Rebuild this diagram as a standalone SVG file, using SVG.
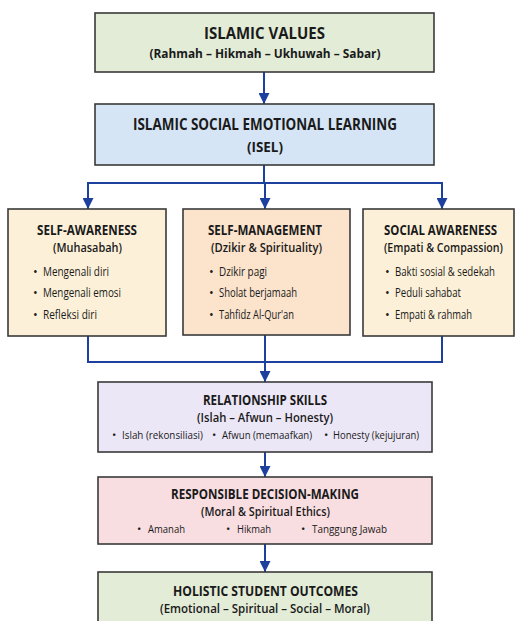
<svg xmlns="http://www.w3.org/2000/svg" width="515" height="621" viewBox="0 0 515 621">
<defs>
<marker id="ah" viewBox="0 0 10 10" refX="10" refY="5" markerWidth="11" markerHeight="11" markerUnits="userSpaceOnUse" orient="auto">
<path d="M0,0 L10,5 L0,10 Z" fill="#1d3f9e"/>
</marker>
<style>
.box{stroke:#3a3a3a;stroke-width:1.6}
text{font-family:"Open Sans","Liberation Sans",sans-serif;fill:#1a1a1a}
.t1{font-size:16.5px;font-weight:700;text-anchor:middle}
.t2{font-size:14.5px;font-weight:700}
.s1{font-size:13px;font-weight:700;text-anchor:middle}
.s2{font-size:13px;font-weight:600}
.b{font-size:12.5px;font-weight:500}
.bs{font-size:11.5px;font-weight:500}
.c{text-anchor:middle}
.ln{fill:none;stroke:#1d3f9e;stroke-width:2}
</style>
</defs>
<rect width="515" height="621" fill="#ffffff"/>
<g id="connectors">
<path class="ln" d="M264,72 V104" marker-end="url(#ah)"/>
<path class="ln" d="M264,165 V183 M88,183 H442"/>
<path class="ln" d="M88,182 V209" marker-end="url(#ah)"/>
<path class="ln" d="M265,183 V209" marker-end="url(#ah)"/>
<path class="ln" d="M442,182 V209" marker-end="url(#ah)"/>
<path class="ln" d="M88,336 V362 H442 V336"/>
<path class="ln" d="M265,335 V382" marker-end="url(#ah)"/>
<path class="ln" d="M265,452 V477" marker-end="url(#ah)"/>
<path class="ln" d="M265,544 V572" marker-end="url(#ah)"/>
</g>
<g id="islamic-values">
<rect class="box" x="95" y="13" width="339" height="59" fill="#e3ecd7"/>
<text class="t1" x="264.5" y="39" textLength="121" lengthAdjust="spacingAndGlyphs">ISLAMIC VALUES</text>
<text class="s1" x="265" y="58" textLength="231" lengthAdjust="spacingAndGlyphs">(Rahmah – Hikmah – Ukhuwah – Sabar)</text>
</g>
<g id="isel">
<rect class="box" x="95" y="104" width="339" height="61" fill="#d6e5f5"/>
<text class="t1" x="265" y="130" textLength="264" lengthAdjust="spacingAndGlyphs">ISLAMIC SOCIAL EMOTIONAL LEARNING</text>
<text class="t1" x="265" y="152" textLength="36" lengthAdjust="spacingAndGlyphs" style="font-size:15px">(ISEL)</text>
</g>
<g id="self-awareness">
<rect class="box" x="8" y="209" width="158" height="127" fill="#fcf1d8"/>
<text class="t2 c" x="87" y="235" textLength="100" lengthAdjust="spacingAndGlyphs">SELF-AWARENESS</text>
<text class="s2 c" x="87.5" y="252" textLength="69" lengthAdjust="spacingAndGlyphs">(Muhasabah)</text>
<text class="b" x="33" y="276">•</text><text class="b" x="43" y="276" textLength="66" lengthAdjust="spacingAndGlyphs">Mengenali diri</text>
<text class="b" x="33" y="297">•</text><text class="b" x="43" y="297" textLength="78" lengthAdjust="spacingAndGlyphs">Mengenali emosi</text>
<text class="b" x="33" y="319">•</text><text class="b" x="43" y="319" textLength="54" lengthAdjust="spacingAndGlyphs">Refleksi diri</text>
</g>
<g id="self-management">
<rect class="box" x="183" y="209" width="167" height="126" fill="#fbe3cc"/>
<text class="t2 c" x="265" y="235" textLength="114" lengthAdjust="spacingAndGlyphs">SELF-MANAGEMENT</text>
<text class="s2 c" x="266.5" y="252" textLength="111" lengthAdjust="spacingAndGlyphs">(Dzikir &amp; Spirituality)</text>
<text class="b" x="209" y="276">•</text><text class="b" x="219" y="276" textLength="48" lengthAdjust="spacingAndGlyphs">Dzikir pagi</text>
<text class="b" x="209" y="297">•</text><text class="b" x="219" y="297" textLength="78" lengthAdjust="spacingAndGlyphs">Sholat berjamaah</text>
<text class="b" x="209" y="319">•</text><text class="b" x="219" y="319" textLength="75" lengthAdjust="spacingAndGlyphs">Tahfidz Al-Qur'an</text>
</g>
<g id="social-awareness">
<rect class="box" x="363" y="209" width="151" height="127" fill="#fcf1d8"/>
<text class="t2" x="384" y="235" textLength="113" lengthAdjust="spacingAndGlyphs">SOCIAL AWARENESS</text>
<text class="s2" x="384" y="252" textLength="119" lengthAdjust="spacingAndGlyphs">(Empati &amp; Compassion)</text>
<text class="b" x="385" y="276">•</text><text class="b" x="395" y="276" textLength="100" lengthAdjust="spacingAndGlyphs">Bakti sosial &amp; sedekah</text>
<text class="b" x="385" y="297">•</text><text class="b" x="395" y="297" textLength="66" lengthAdjust="spacingAndGlyphs">Peduli sahabat</text>
<text class="b" x="385" y="319">•</text><text class="b" x="395" y="319" textLength="77" lengthAdjust="spacingAndGlyphs">Empati &amp; rahmah</text>
</g>
<g id="relationship-skills">
<rect class="box" x="98" y="382" width="334" height="70" fill="#ece7f6"/>
<text class="t2 c" x="265" y="405" textLength="124" lengthAdjust="spacingAndGlyphs">RELATIONSHIP SKILLS</text>
<text class="s2 c" x="265" y="422" textLength="136" lengthAdjust="spacingAndGlyphs">(Islah – Afwun – Honesty)</text>
<text class="bs" x="112" y="439">•</text><text class="bs" x="122" y="439" textLength="81" lengthAdjust="spacingAndGlyphs">Islah (rekonsiliasi)</text>
<text class="bs" x="212" y="439">•</text><text class="bs" x="222" y="439" textLength="90" lengthAdjust="spacingAndGlyphs">Afwun (memaafkan)</text>
<text class="bs" x="324" y="439">•</text><text class="bs" x="333" y="439" textLength="86" lengthAdjust="spacingAndGlyphs">Honesty (kejujuran)</text>
</g>
<g id="decision-making">
<rect class="box" x="98" y="477" width="334" height="67" fill="#f9dee1"/>
<text class="t2 c" x="265" y="499" textLength="188" lengthAdjust="spacingAndGlyphs">RESPONSIBLE DECISION-MAKING</text>
<text class="s2 c" x="265.5" y="516" textLength="129" lengthAdjust="spacingAndGlyphs">(Moral &amp; Spiritual Ethics)</text>
<text class="bs" x="137" y="533">•</text><text class="bs" x="148" y="533" textLength="37" lengthAdjust="spacingAndGlyphs">Amanah</text>
<text class="bs" x="226" y="533">•</text><text class="bs" x="237" y="533" textLength="34" lengthAdjust="spacingAndGlyphs">Hikmah</text>
<text class="bs" x="301" y="533">•</text><text class="bs" x="312" y="533" textLength="75" lengthAdjust="spacingAndGlyphs">Tanggung Jawab</text>
</g>
<g id="holistic-outcomes">
<rect class="box" x="98" y="572" width="334" height="60" fill="#e3ecd7"/>
<text class="t2 c" x="265.5" y="596" textLength="185" lengthAdjust="spacingAndGlyphs">HOLISTIC STUDENT OUTCOMES</text>
<text class="s2 c" x="265" y="613" textLength="210" lengthAdjust="spacingAndGlyphs">(Emotional – Spiritual – Social – Moral)</text>
</g>
</svg>
